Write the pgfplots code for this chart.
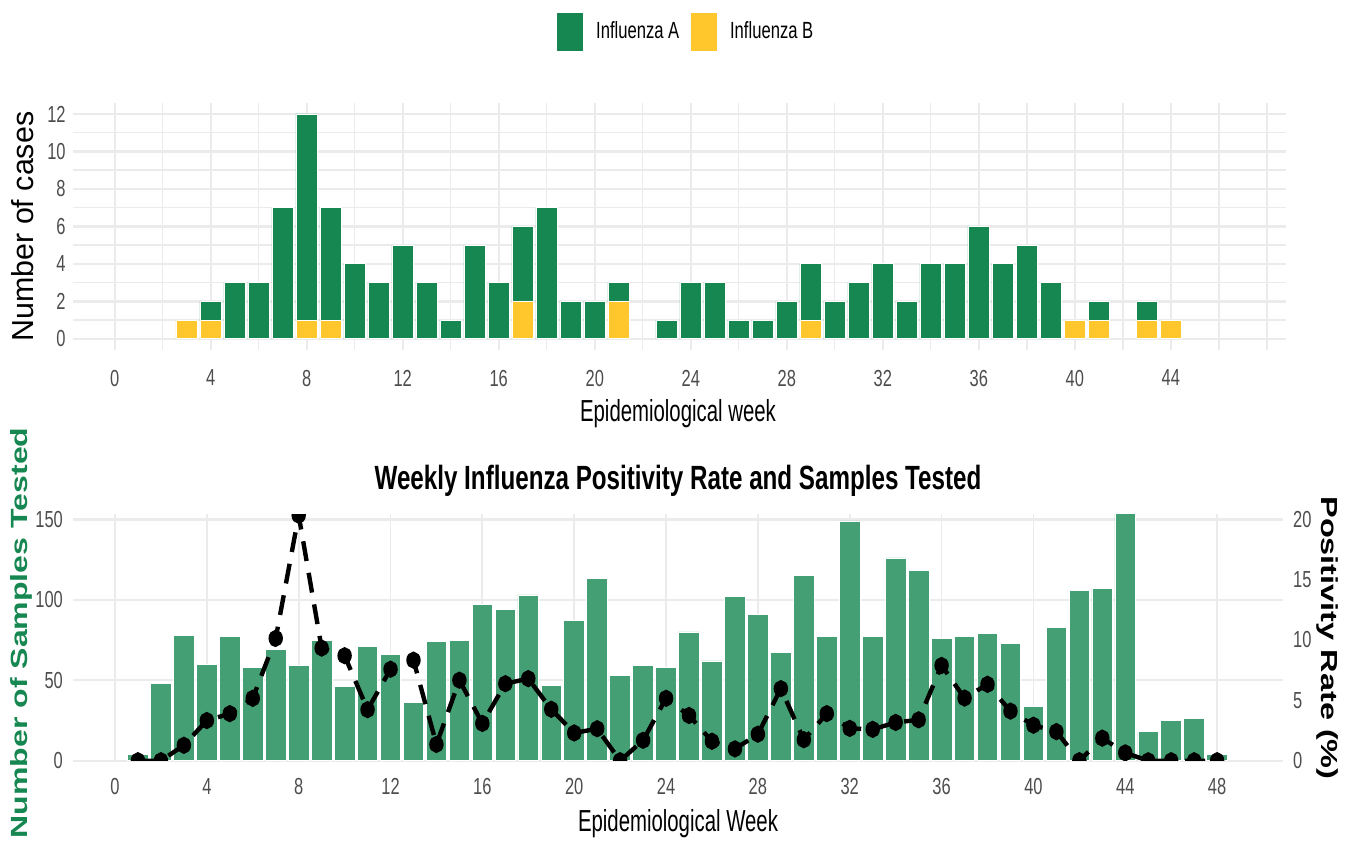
\documentclass[border=0pt]{standalone}
\usepackage{fontspec}
\setmainfont{Liberation Sans}
\newfontfamily\tickfont{Liberation Sans}[FakeStretch=0.71]
\newfontfamily\labfont{Liberation Sans}[FakeStretch=0.67]
\newfontfamily\titlefont{Liberation Sans}[FakeStretch=0.72]
\newfontfamily\tallfont{Liberation Sans}[FakeStretch=1.4]
\newfontfamily\tallerfont{Liberation Sans}[FakeStretch=1.37]
\usepackage{pgfplots}
\usepackage{pgfplotstable}
\pgfplotsset{compat=1.18}
\definecolor{cA}{HTML}{168751}
\definecolor{cB}{HTML}{FFC72C}
\definecolor{barc}{HTML}{44A074}
\definecolor{gridc}{HTML}{EBEBEB}
\definecolor{tickc}{HTML}{4D4D4D}

\pgfplotstableread{
week A B
3 0 1
4 1 1
5 3 0
6 3 0
7 7 0
8 11 1
9 6 1
10 4 0
11 3 0
12 5 0
13 3 0
14 1 0
15 5 0
16 3 0
17 4 2
18 7 0
19 2 0
20 2 0
21 1 2
23 1 0
24 3 0
25 3 0
26 1 0
27 1 0
28 2 0
29 3 1
30 2 0
31 3 0
32 4 0
33 2 0
34 4 0
35 4 0
36 6 0
37 4 0
38 5 0
39 3 0
40 0 1
41 1 1
43 1 1
44 0 1
}\casestable

\pgfplotstableread{
week samples rate
1 4 0
2 48 0
3 78 1.28
4 60 3.33
5 77 3.90
6 58 5.17
7 69 10.14
8 59 20.34
9 75 9.33
10 46 8.70
11 71 4.23
12 66 7.58
13 36 8.33
14 74 1.35
15 75 6.67
16 97 3.09
17 94 6.38
18 103 6.80
19 47 4.26
20 87 2.30
21 113 2.65
22 53 0
23 59 1.69
24 58 5.17
25 80 3.75
26 62 1.61
27 102 0.98
28 91 2.20
29 67 5.97
30 115 1.74
31 77 3.90
32 149 2.68
33 77 2.60
34 126 3.17
35 118 3.39
36 76 7.89
37 77 5.19
38 79 6.33
39 73 4.11
40 34 2.94
41 83 2.41
42 106 0
43 107 1.87
44 154 0.65
45 18 0
46 25 0
47 26 0
48 4 0
}\samplestable

\pgfplotsset{
  ggbase/.style={
    scale only axis,
    anchor=south west,
    axis line style={draw=none},
    major tick length=0pt, minor tick length=0pt,
    tick style={draw=none},
    /pgf/number format/assume math mode=true,
    tick label style={font=\tickfont\fontsize{11.6}{13}\selectfont, text=tickc, inner sep=0pt},
  }
}

\begin{document}
\begin{tikzpicture}
\path[use as bounding box] (0,0) rectangle (676pt,-421.5pt);
\clip (0,0) rectangle (676pt,-421.5pt);

% ---------------- top panel ----------------
\begin{axis}[ggbase,
  at={(36.35pt,-175pt)}, width=606.65pt, height=123.65pt,
  xmin=-1.75, xmax=48.8, ymin=-0.6, ymax=12.6,
  ybar stacked, bar width=0.9,
  xtick={0,4,...,44}, ytick={0,2,...,12},
  minor xtick={2,6,10,14,18,22,26,30,34,38,42,46,48},
  minor ytick={1,3,...,11},
  xmajorgrids, ymajorgrids, xminorgrids, yminorgrids,
  major x grid style={draw=gridc, line width=0.8pt},
  minor x grid style={draw=gridc, line width=0.7pt},
  major y grid style={draw=gridc, line width=1.2pt},
  minor y grid style={draw=gridc, line width=0.7pt},
  xticklabel style={anchor=north, yshift=-9.8pt},
  yticklabel style={anchor=east, xshift=-3.35pt},
  legend image code/.code={\fill[#1] (0pt,-9.75pt) rectangle (13.5pt,9.75pt);},
  reverse legend,
  legend style={at={(0.5045,1.286)}, anchor=center, draw=none, fill=none,
    legend columns=2, font=\tickfont\fontsize{11.7}{13}\selectfont,
    nodes={inner sep=0pt},
    /tikz/every odd column/.append style={column sep=6pt},
    /tikz/every even column/.append style={column sep=5.5pt}},
]
\addplot[fill=cB, draw=white, line width=0.4pt] table[x=week, y=B] {\casestable};
\addplot[fill=cA, draw=white, line width=0.4pt] table[x=week, y=A] {\casestable};
\legend{Influenza B, Influenza A}
\end{axis}

% ---------------- bottom panel: samples ----------------
\begin{axis}[ggbase,
  at={(36.35pt,-380.35pt)}, width=605.15pt, height=123.2pt,
  xmin=-1.842, xmax=50.87, ymin=0, ymax=153.1,
  ybar, bar width=0.9,
  xtick={0,4,...,48}, ytick={0,50,100,150},
  xmajorgrids, ymajorgrids,
  major x grid style={draw=gridc, line width=0.9pt},
  major y grid style={draw=gridc, line width=1.2pt},
  xticklabel style={anchor=north, yshift=-8.65pt},
  yticklabel style={anchor=east, xshift=-4.7pt},
]
\addplot[fill=barc, draw=white, line width=0.4pt] table[x=week, y=samples] {\samplestable};
\end{axis}

% ---------------- bottom panel: positivity ----------------
\begin{axis}[ggbase,
  at={(36.35pt,-380.35pt)}, width=605.15pt, height=123.2pt,
  xmin=-1.842, xmax=50.87, ymin=0, ymax=20.41,
  xtick=\empty, ytick={0,5,10,15,20},
  yticklabel pos=right,
  yticklabel style={anchor=west, xshift=4.85pt},
  clip marker paths=true,
]
\addplot[black, line width=2.2pt, dash pattern=on 10pt off 6pt,
  mark=*, mark size=2.5pt, mark options={solid, fill=black, yscale=1.25}]
  table[x=week, y=rate] {\samplestable};
\end{axis}

% ---------------- labels ----------------
\node[anchor=base, font=\labfont\fontsize{15.2}{17}\selectfont] at (339pt,-210.5pt) {Epidemiological week};
\node[rotate=90, font=\fontsize{15.2}{17}\selectfont] at (11.5pt,-113.3pt) {Number of cases};
\node[anchor=base, font=\titlefont\bfseries\fontsize{16.8}{19}\selectfont] at (339pt,-244.5pt) {Weekly Influenza Positivity Rate and Samples Tested};
\node[anchor=base, font=\labfont\fontsize{15.2}{17}\selectfont] at (339pt,-415.85pt) {Epidemiological Week};
\node[rotate=90, text=cA, font=\tallerfont\bfseries\fontsize{11.7}{13}\selectfont] at (10.5pt,-316.5pt) {Number of Samples Tested};
\node[rotate=-90, font=\tallfont\bfseries\fontsize{11.6}{13}\selectfont] at (663.5pt,-319pt) {Positivity Rate (\%)};
\end{tikzpicture}
\end{document}
